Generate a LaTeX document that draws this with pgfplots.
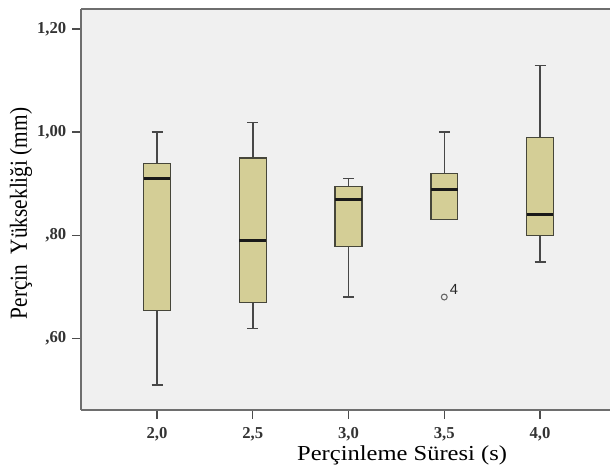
\documentclass[border=0pt]{standalone}
\usepackage{fontspec}
\setmainfont{Liberation Serif}
\newfontfamily\lsans{Liberation Sans}
\usepackage{pgfplots}
\pgfplotsset{compat=1.18}
\usepgfplotslibrary{statistics}
\definecolor{boxfill}{RGB}{212,206,150}
\definecolor{bg}{RGB}{240,240,240}
\definecolor{edge}{RGB}{70,70,58}
\definecolor{axgray}{RGB}{110,110,110}
\begin{document}
\begin{tikzpicture}
\begin{axis}[
  scale only axis, width=396.75pt, height=300.75pt,
  xmin=-0.794, xmax=4.731, ymin=0.4608, ymax=1.2388,
  axis x line*=box, axis y line*=left,
  axis background/.style={fill=bg},
  axis line style={draw=axgray, line width=1.1pt},
  xtick={0,1,2,3,4},
  xticklabels={{2,0},{2,5},{3,0},{3,5},{4,0}},
  ytick={0.6,0.8,1.0,1.2},
  yticklabels={{,60},{,80},{1,00},{1,20}},
  tick align=outside, tick pos=left,
  major tick length=6.5pt,
  tick style={draw=black!70, line width=0.9pt},
  ticklabel style={font=\bfseries\fontsize{12.5}{14}\selectfont, text=black!80},
  xticklabel style={yshift=-3pt},
  yticklabel style={xshift=-1pt},
  xlabel={Perçinleme Süresi (s)},
  ylabel={Perçin\ \ Yüksekliği (mm)},
  xlabel style={font=\fontsize{16}{18}\selectfont, at={(axis description cs:0.607,-0.112)}, anchor=center, xscale=1.15},
  ylabel style={font=\fontsize{16}{18}\selectfont, at={(axis description cs:-0.1134,0.49)}, anchor=center, yscale=1.15},
  boxplot/draw direction=y,
  boxplot/every box/.style={draw=edge, fill=boxfill, line width=1pt},
  boxplot/every whisker/.style={draw=black!72, line width=1.1pt},
  boxplot/every median/.style={draw=black!90, line width=2.3pt},
  clip=false,
]
\addplot[boxplot prepared={draw position=0, lower whisker=0.509, lower quartile=0.654, median=0.910, upper quartile=0.939, upper whisker=1.000, box extend=0.28, whisker extend=0.115}] coordinates {};
\addplot[boxplot prepared={draw position=1, lower whisker=0.619, lower quartile=0.669, median=0.790, upper quartile=0.950, upper whisker=1.019, box extend=0.28, whisker extend=0.115}] coordinates {};
\addplot[boxplot prepared={draw position=2, lower whisker=0.680, lower quartile=0.778, median=0.870, upper quartile=0.895, upper whisker=0.910, box extend=0.28, whisker extend=0.115}] coordinates {};
\addplot[boxplot prepared={draw position=3, lower whisker=0.830, lower quartile=0.830, median=0.889, upper quartile=0.920, upper whisker=1.000, box extend=0.28, whisker extend=0.115}, mark=o, mark size=2.2pt, mark options={draw=black!60, line width=0.8pt}] coordinates {(3,0.680)};
\addplot[boxplot prepared={draw position=4, lower whisker=0.748, lower quartile=0.800, median=0.840, upper quartile=0.990, upper whisker=1.129, box extend=0.28, whisker extend=0.115}] coordinates {};
\node[font=\lsans\fontsize{11}{12}\selectfont, text=black!85] at (axis cs:3.1,0.695) {4};
\coordinate (sw) at (rel axis cs:0,0);
\coordinate (ne) at (rel axis cs:1,1);
\end{axis}
\pgfresetboundingbox
\path[use as bounding box] ([xshift=-60.75pt,yshift=-43.5pt]sw) rectangle ([yshift=6.75pt]ne);
\end{tikzpicture}
\end{document}
